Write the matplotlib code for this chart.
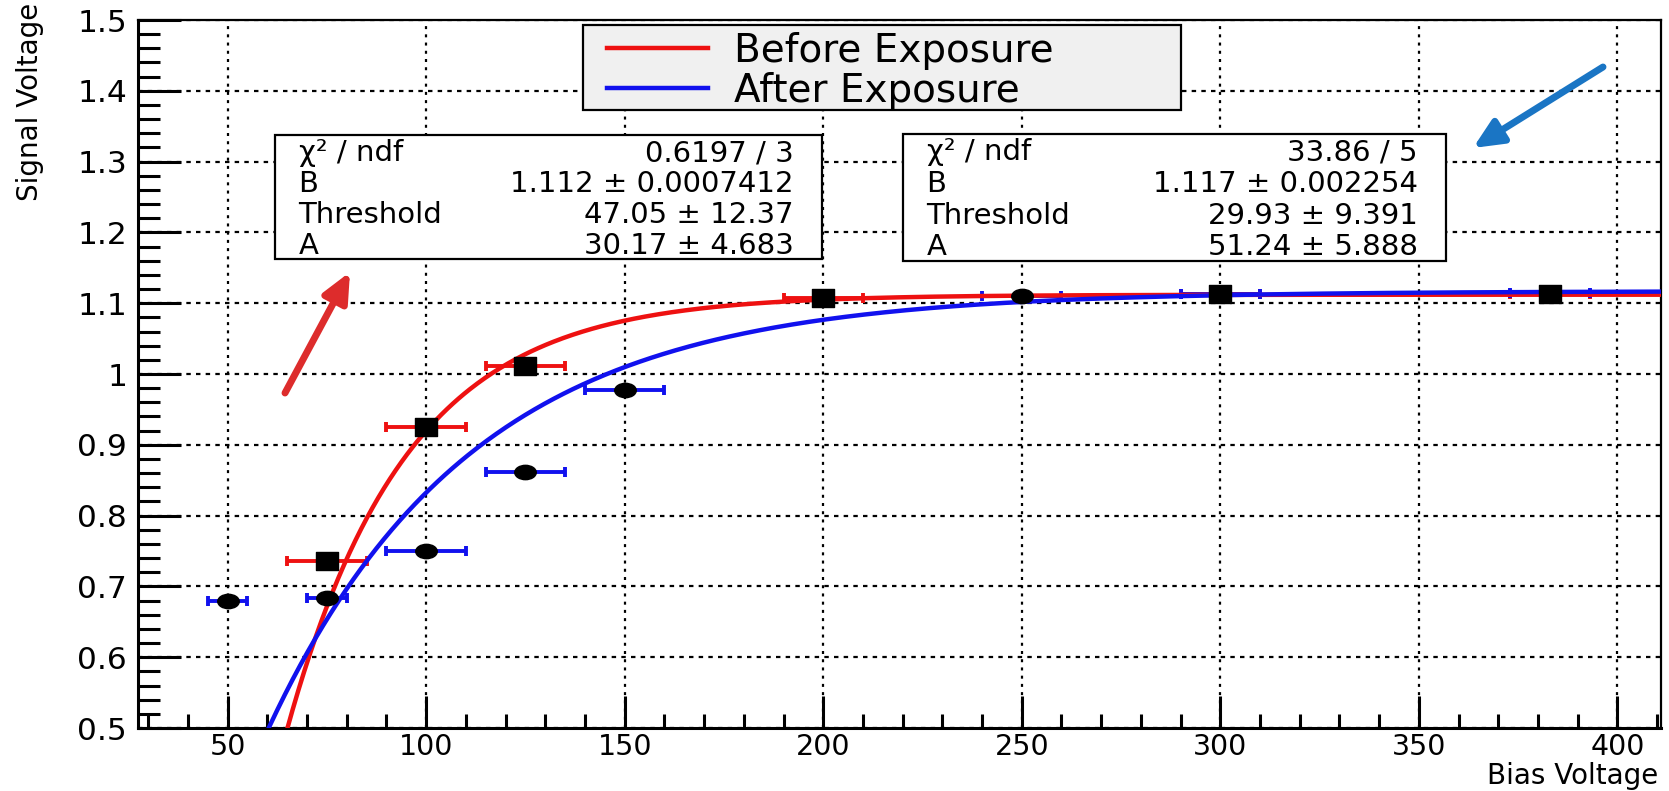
import numpy as np
import matplotlib
matplotlib.use("Agg")
import matplotlib.pyplot as plt
from matplotlib.path import Path
from matplotlib.patches import Rectangle
from matplotlib.lines import Line2D
from matplotlib.transforms import Affine2D
from matplotlib.ticker import MultipleLocator, FuncFormatter

# measured points
bias_before = [75, 100, 125, 200, 300, 383]
signal_before = [0.736, 0.925, 1.012, 1.108, 1.113, 1.113]
xerr_before = [10, 10, 10, 10, 10, 10]

bias_after = [50, 75, 100, 125, 150, 250, 300, 383]
signal_after = [0.679, 0.684, 0.750, 0.861, 0.977, 1.110, 1.113, 1.115]
xerr_after = [5, 5, 10, 10, 10, 10, 10, 10]

# fit results, f(x) = B * (1 - exp(-(x - Threshold) / A))
fit_before = {"B": 1.112, "Threshold": 47.05, "A": 30.17}
fit_after = {"B": 1.117, "Threshold": 29.93, "A": 51.24}

stats_before = [("χ² / ndf", "0.6197 / 3"), ("B", "1.112 ± 0.0007412"),
                ("Threshold", "47.05 ± 12.37"), ("A", "30.17 ± 4.683")]
stats_after = [("χ² / ndf", "33.86 / 5"), ("B", "1.117 ± 0.002254"),
               ("Threshold", "29.93 ± 9.391"), ("A", "51.24 ± 5.888")]

legend_labels = ["Before Exposure", "After Exposure"]

RED = "#ee1111"
BLUE = "#1111ee"

W, H = 1669, 791


def fx(px):
    return px / W


def fy(py):
    return 1 - py / H


def fit_curve(x, p):
    return p["B"] * (1 - np.exp(-(x - p["Threshold"]) / p["A"]))


fig = plt.figure(figsize=(W / 100, H / 100), dpi=100)
ax = fig.add_axes([fx(138.3), fy(728), fx(1661) - fx(138.3), fy(20) - fy(728)])
ax.set_xlim(27.5, 411)
ax.set_ylim(0.5, 1.5)

# stretched marker shapes as in the source picture
ellipse = Affine2D().scale(1.5, 1.0).transform_path(Path.unit_circle())
square = Path([(-1.25, -1), (1.25, -1), (1.25, 1), (-1.25, 1), (-1.25, -1)],
              [Path.MOVETO, Path.LINETO, Path.LINETO, Path.LINETO, Path.CLOSEPOLY])

ax.errorbar(bias_before, signal_before, xerr=xerr_before, fmt="none", ecolor=RED,
            elinewidth=2.8, capsize=3.5, capthick=2.8, zorder=3)
ax.errorbar(bias_after, signal_after, xerr=xerr_after, fmt="none", ecolor=BLUE,
            elinewidth=2.8, capsize=3.5, capthick=2.8, zorder=3)

xs = np.linspace(27.5, 411, 800)
ax.plot(xs, fit_curve(xs, fit_before), color=RED, lw=3.2, zorder=4)
ax.plot(xs, fit_curve(xs, fit_after), color=BLUE, lw=3.2, zorder=4)

ax.plot(bias_before, signal_before, ls="none", marker=square, ms=15.5, color="black", zorder=5)
ax.plot(bias_after, signal_after, ls="none", marker=ellipse, ms=15.5, color="black", zorder=5)

# axes styling, ROOT like
ax.xaxis.set_major_locator(MultipleLocator(50))
ax.xaxis.set_minor_locator(MultipleLocator(10))
ax.yaxis.set_major_locator(MultipleLocator(0.1))
ax.yaxis.set_minor_locator(MultipleLocator(0.02))
ax.yaxis.set_major_formatter(FuncFormatter(lambda v, p: f"{v:g}"))
ax.tick_params(axis="y", which="major", direction="in", length=31, width=2.2, labelsize=22.5, pad=8)
ax.tick_params(axis="y", which="minor", direction="in", length=16, width=2.2)
ax.tick_params(axis="x", which="major", direction="in", length=23, width=2.2, labelsize=20.5, pad=3.5)
ax.tick_params(axis="x", which="minor", direction="in", length=10, width=2.2)
for side in ["left", "bottom"]:
    ax.spines[side].set_linewidth(2.2)
for side in ["top", "right"]:
    ax.spines[side].set_linewidth(1.6)

ax.set_axisbelow(True)
ax.grid(True, which="major", axis="x", color="black", linestyle=(0, (1.35, 2.35)), linewidth=1.6)
ax.grid(True, which="major", axis="y", color="black", linestyle=(0, (2.0, 2.35)), linewidth=1.6)

fig.text(fx(1658), fy(784), "Bias Voltage", ha="right", va="baseline", fontsize=20)
fig.text(fx(30), fy(3), "Signal Voltage", rotation=90, ha="center", va="top", fontsize=20)

# legend box
fig.add_artist(Rectangle((fx(583), fy(110)), fx(1181) - fx(583), fy(25.5) - fy(110),
                         transform=fig.transFigure, facecolor="#f0f0f0", edgecolor="black",
                         linewidth=1.6, zorder=10))
for i, (label, color) in enumerate(zip(legend_labels, [RED, BLUE])):
    yc = 48 + 40 * i
    fig.add_artist(Line2D([fx(607), fx(708)], [fy(yc), fy(yc)], transform=fig.transFigure,
                          color=color, lw=3.2, zorder=11))
    fig.text(fx(734), fy(yc + 14), label, ha="left", va="baseline", fontsize=28, zorder=11)


# stats boxes
def stats_box(x0, y0, x1, y1, rows):
    fig.add_artist(Rectangle((fx(x0), fy(y1)), fx(x1) - fx(x0), fy(y0) - fy(y1),
                             transform=fig.transFigure, facecolor="white", edgecolor="black",
                             linewidth=1.6, zorder=10))
    rh = (y1 - y0) / len(rows)
    for i, (name, val) in enumerate(rows):
        yb = y0 + (i + 0.5) * rh + 10.5
        fig.text(fx(x0 + 24), fy(yb), name, ha="left", va="baseline", fontsize=21, zorder=11)
        fig.text(fx(x1 - 28), fy(yb), val, ha="right", va="baseline", fontsize=21, zorder=11)


stats_box(274.6, 135.2, 821.7, 258.6, stats_before)
stats_box(902.6, 134.1, 1445.5, 260.8, stats_after)

# annotation arrows
ax.annotate("", xy=(350, H - 272), xytext=(285, H - 393), xycoords="figure pixels",
            textcoords="figure pixels",
            arrowprops=dict(arrowstyle="-|>,head_length=0.7,head_width=0.32", lw=5,
                            color="#dd2c2c", shrinkA=0, shrinkB=0, mutation_scale=25))
ax.annotate("", xy=(1473, H - 148), xytext=(1603, H - 67), xycoords="figure pixels",
            textcoords="figure pixels",
            arrowprops=dict(arrowstyle="-|>,head_length=0.7,head_width=0.32", lw=5,
                            color="#1a75c4", shrinkA=0, shrinkB=0, mutation_scale=25))

fig.savefig("out.png", dpi=100)
